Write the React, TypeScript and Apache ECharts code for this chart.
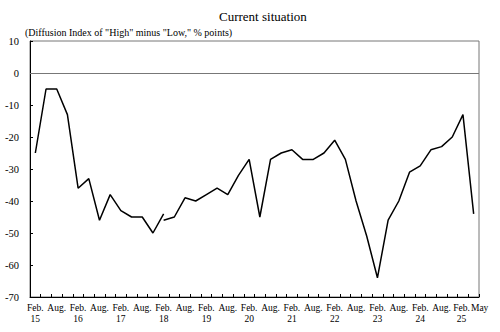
import React, { useEffect, useRef } from "react";
import * as echarts from "echarts";

const categories = [
  "Feb 15", "May 15", "Aug 15", "Nov 15",
  "Feb 16", "May 16", "Aug 16", "Nov 16",
  "Feb 17", "May 17", "Aug 17", "Nov 17",
  "Feb 18", "May 18", "Aug 18", "Nov 18",
  "Feb 19", "May 19", "Aug 19", "Nov 19",
  "Feb 20", "May 20", "Aug 20", "Nov 20",
  "Feb 21", "May 21", "Aug 21", "Nov 21",
  "Feb 22", "May 22", "Aug 22", "Nov 22",
  "Feb 23", "May 23", "Aug 23", "Nov 23",
  "Feb 24", "May 24", "Aug 24", "Nov 24",
  "Feb 25", "May 25",
];

const tickLabels = [
  "Feb.\n15", "", "Aug.", "",
  "Feb.\n16", "", "Aug.", "",
  "Feb.\n17", "", "Aug.", "",
  "Feb.\n18", "", "Aug.", "",
  "Feb.\n19", "", "Aug.", "",
  "Feb.\n20", "", "Aug.", "",
  "Feb.\n21", "", "Aug.", "",
  "Feb.\n22", "", "Aug.", "",
  "Feb.\n23", "", "Aug.", "",
  "Feb.\n24", "", "Aug.", "",
  "{f|Feb.}\n{f|25}", "{m|May}",
];

// Old basis: Feb 15 .. Feb 18
const oldSeries = [-25, -5, -5, -13, -36, -33, -46, -38, -43, -45, -45, -50, -44];
// New basis: Feb 18 .. May 25
const newSeries = [
  -46, -45, -39, -40, -38, -36, -38, -32, -27, -45,
  -27, -25, -24, -27, -27, -25, -21, -27, -40, -51,
  -64, -46, -40, -31, -29, -24, -23, -20, -13, -44,
];

const yTicks = { min: -70, max: 10, interval: 10 };

export default function App() {
  const ref = useRef<HTMLDivElement>(null);
  useEffect(() => {
    if (!ref.current) return;
    const chart = echarts.init(ref.current, null, { renderer: "svg" });
    const n = categories.length;
    const oldData = categories.map((_, i) => (i < oldSeries.length ? oldSeries[i] : null));
    const startNew = n - newSeries.length;
    const newData = categories.map((_, i) => (i >= startNew ? newSeries[i - startNew] : null));
    const font = "Liberation Serif";
    chart.setOption({
      animation: false,
      textStyle: { fontFamily: font },
      title: {
        text: "Current situation",
        left: 214,
        top: 5,
        textStyle: { fontFamily: font, fontSize: 13, fontWeight: "normal", color: "#000" },
      },
      graphic: [
        {
          type: "text",
          left: 25,
          top: 27,
          style: {
            text: '(Diffusion Index of "High" minus "Low," % points)',
            fontFamily: font,
            fontSize: 10,
            fill: "#000",
          },
        },
      ],
      grid: {
        left: 30,
        right: 21,
        top: 41,
        bottom: 35,
        show: true,
        borderColor: "#777",
        borderWidth: 1,
        backgroundColor: "transparent",
      },
      xAxis: {
        type: "category",
        data: categories,
        boundaryGap: true,
        axisLine: { onZero: false, lineStyle: { color: "#000", width: 1 } },
        axisTick: { show: true, inside: true, length: 3, interval: 0, lineStyle: { color: "#000" } },
        axisLabel: {
          interval: 0,
          color: "#000",
          fontFamily: font,
          fontSize: 9.5,
          lineHeight: 11,
          margin: 5,
          formatter: (_v: string, i: number) => tickLabels[i],
          rich: {
            f: { fontFamily: font, fontSize: 9.5, lineHeight: 11, color: "#000", padding: [0, 3, 0, 0] },
            m: { fontFamily: font, fontSize: 9.5, lineHeight: 11, color: "#000", padding: [0, 0, 0, 12] },
          },
        },
        splitLine: { show: false },
      },
      yAxis: {
        type: "value",
        min: yTicks.min,
        max: yTicks.max,
        interval: yTicks.interval,
        axisLine: { show: true, lineStyle: { color: "#000", width: 1 } },
        axisTick: { show: true, inside: true, length: 3, lineStyle: { color: "#000" } },
        axisLabel: { color: "#000", fontFamily: font, fontSize: 10.5, margin: 11 },
        splitLine: { show: false },
      },
      series: [
        {
          type: "line",
          data: oldData,
          symbol: "none",
          connectNulls: false,
          lineStyle: { color: "#000", width: 1.5 },
          markLine: {
            silent: true,
            symbol: "none",
            label: { show: false },
            lineStyle: { color: "#777", width: 1, type: "solid" },
            data: [{ yAxis: 0 }],
          },
        },
        {
          type: "line",
          data: newData,
          symbol: "none",
          connectNulls: false,
          lineStyle: { color: "#000", width: 1.5 },
        },
      ],
    });
    return () => chart.dispose();
  }, []);
  return <div ref={ref} style={{ width: 500, height: 332, position: "absolute", left: 0, top: 0 }} />;
}
